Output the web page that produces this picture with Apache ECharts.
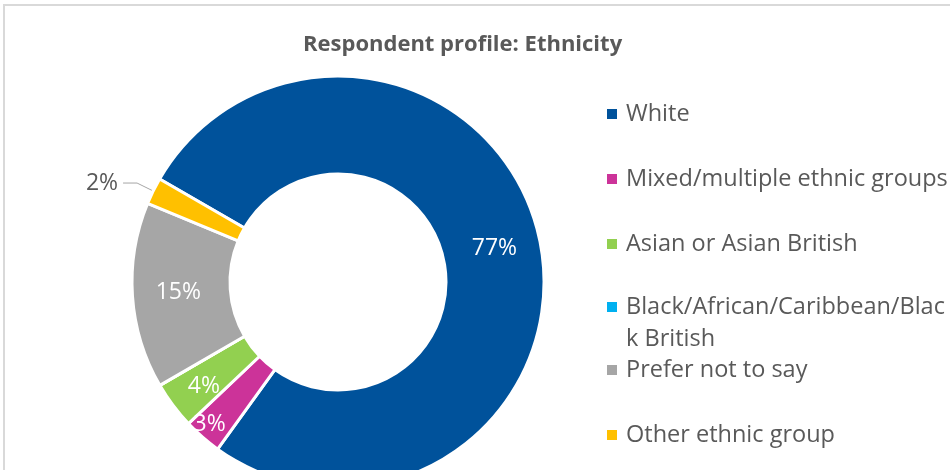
<!DOCTYPE html>
<html>
<head>
<meta charset="utf-8">
<script src="https://cdn.jsdelivr.net/npm/echarts@6/dist/echarts.min.js"></script>
<style>
  body { margin: 0; background: #fff; }
  #frame { position: absolute; left: 3px; top: 4px; width: 980px; height: 500px; border: 2px solid #d9d9d9; }
  #chart { position: absolute; left: 0; top: 0; width: 950px; height: 470px; }
</style>
</head>
<body>
<div id="frame"></div>
<div id="chart"></div>
<script>
var categories = ['White', 'Mixed/multiple ethnic groups', 'Asian or Asian British',
    'Black/African/Caribbean/Black British', 'Prefer not to say', 'Other ethnic group'];
var shares = [76.6, 3.0, 3.7, 0, 14.6, 2.1];
var colours = ['#00529b', '#cc3399', '#92d050', '#00b0f0', '#a6a6a6', '#ffc000'];

var chartDom = document.getElementById('chart');
var myChart = echarts.init(chartDom);
var option;

var font = 'Open Sans';
var legendBase = {
    orient: 'vertical',
    left: 607,
    padding: 0,
    itemGap: 33,
    itemWidth: 10,
    itemHeight: 10,
    icon: 'rect',
    selectedMode: false,
    itemStyle: { borderWidth: 0 },
    textStyle: {
        fontFamily: font,
        fontSize: 23.5,
        lineHeight: 32,
        color: '#595959',
        padding: [0, 0, 0, 4]
    }
};

var pieData = categories.map(function (name, i) {
    var item = { name: name, value: shares[i], itemStyle: { color: colours[i] } };
    if (shares[i] === 0) {
        item.label = { show: false };
    }
    if (name === 'Other ethnic group') {
        item.label = { position: 'outside', color: '#595959' };
        item.labelLine = { show: true, length: 18, length2: 14, lineStyle: { color: '#a6a6a6', width: 1 } };
    }
    return item;
});

option = {
    animation: false,
    title: {
        text: 'Respondent profile: Ethnicity',
        left: 303,
        top: 34,
        padding: 0,
        textStyle: {
            fontFamily: font,
            fontSize: 22,
            fontWeight: 'bold',
            color: '#595959'
        }
    },
    legend: [
        Object.assign({}, legendBase, {
            top: 98,
            data: categories.slice(0, 3)
        }),
        Object.assign({}, legendBase, {
            top: 259,
            data: [categories[3]],
            formatter: function () {
                return '\nBlack/African/Caribbean/Blac\nk British';
            }
        }),
        Object.assign({}, legendBase, {
            top: 354,
            data: categories.slice(4)
        })
    ],
    series: [
        {
            type: 'pie',
            center: [338, 282],
            radius: [108, 206],
            startAngle: 150,
            clockwise: true,
            avoidLabelOverlap: false,
            itemStyle: { borderColor: '#fff', borderWidth: 3 },
            label: {
                show: true,
                position: 'inside',
                fontFamily: font,
                fontSize: 23,
                color: '#fff',
                formatter: function (p) {
                    return Math.round(p.value) + '%';
                }
            },
            labelLine: { show: false },
            labelLayout: function (params) {
                if (params.dataIndex === 1) {
                    return { dx: -23, dy: 22 };
                }
                if (params.dataIndex === 2) {
                    return { dx: -6, dy: 9 };
                }
                return {};
            },
            emphasis: { disabled: true },
            data: pieData
        }
    ]
};

option && myChart.setOption(option);
window.addEventListener('resize', function () {
    myChart.resize();
});
</script>
</body>
</html>
